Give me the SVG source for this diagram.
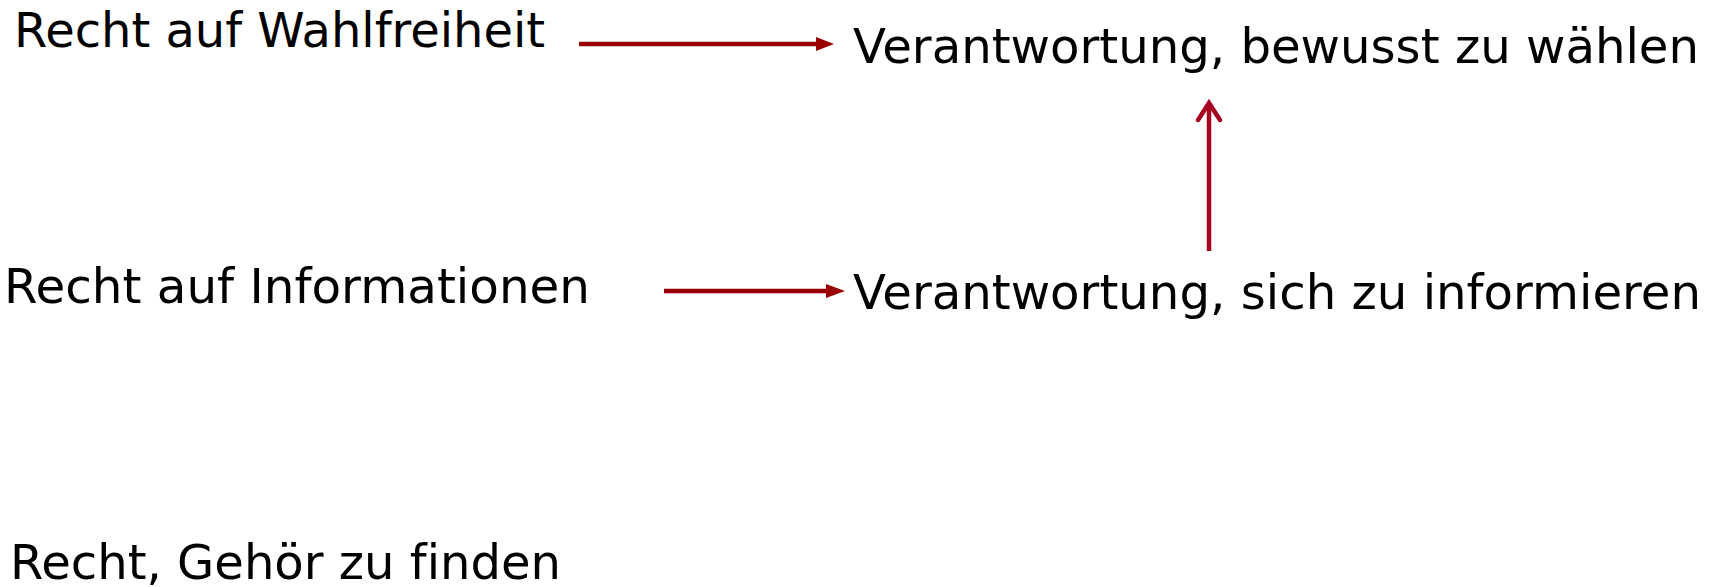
<svg xmlns="http://www.w3.org/2000/svg" width="1712" height="587" viewBox="0 0 1712 587">
<style>
.t{font-family:"DejaVu Sans","Verdana",sans-serif;font-size:48px;fill:#000;font-variant-ligatures:none}
.c1{stroke:#990000;stroke-width:4.5;fill:none}
.c2{stroke:#A50021;stroke-width:4.5;fill:none}
</style>
<rect width="1712" height="587" fill="#fff"/>
<g id="n1"><text class="t" x="14" y="47" textLength="531" lengthAdjust="spacingAndGlyphs">Recht auf Wahlfreiheit</text></g>
<g id="n2"><text class="t" x="853" y="63" textLength="846" lengthAdjust="spacingAndGlyphs">Verantwortung, bewusst zu wählen</text></g>
<g id="n3"><text class="t" x="4" y="303" textLength="586" lengthAdjust="spacingAndGlyphs">Recht auf Informationen</text></g>
<g id="n4"><text class="t" x="853" y="309" textLength="848" lengthAdjust="spacingAndGlyphs">Verantwortung, sich zu informieren</text></g>
<g id="n5"><text class="t" x="10" y="579" textLength="551" lengthAdjust="spacingAndGlyphs">Recht, Gehör zu finden</text></g>
<g id="connectors">
<line class="c1" x1="579" y1="44" x2="818" y2="44"/>
<path d="M816,37 L834,44 L816,51 Z" fill="#990000"/>
<line class="c1" x1="664" y1="291" x2="828" y2="291"/>
<path d="M826,284 L845,291 L826,298 Z" fill="#990000"/>
<line class="c2" x1="1209" y1="251" x2="1209" y2="106"/>
<polyline class="c2" points="1198,120 1209,103 1220,120" stroke-linecap="round" stroke-linejoin="miter" stroke-width="5"/>
</g>
</svg>
